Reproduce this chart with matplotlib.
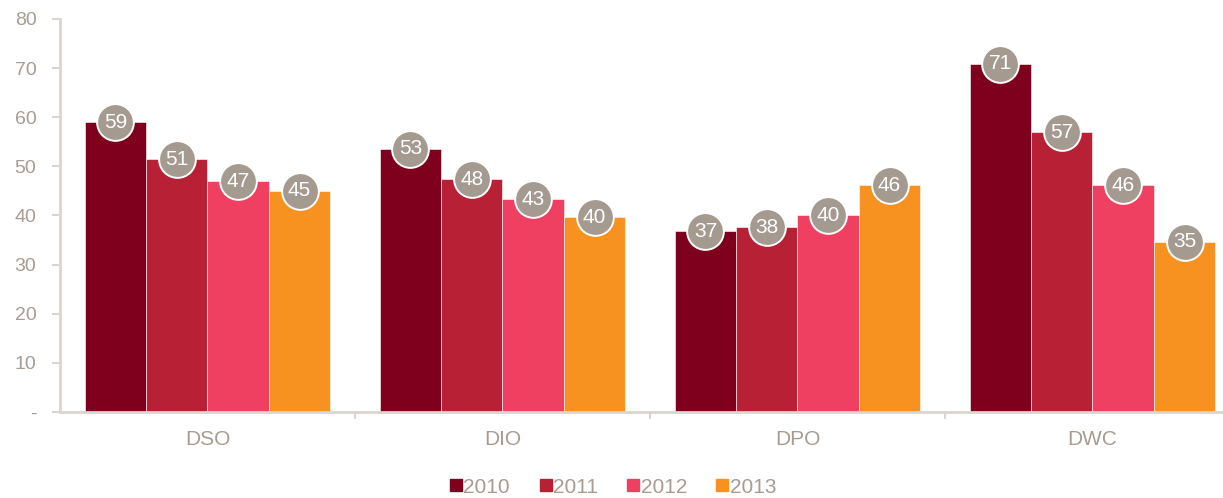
import matplotlib
matplotlib.use("Agg")
import matplotlib.pyplot as plt
import numpy as np
from matplotlib.lines import Line2D

categories = ["DSO", "DIO", "DPO", "DWC"]
years = ["2010", "2011", "2012", "2013"]
values = {
    "2010": [59.0, 53.6, 36.8, 70.9],
    "2011": [51.5, 47.4, 37.6, 56.9],
    "2012": [47.0, 43.3, 40.0, 46.2],
    "2013": [45.0, 39.6, 46.2, 34.7],
}
labels = {
    "2010": [59, 53, 37, 71],
    "2011": [51, 48, 38, 57],
    "2012": [47, 43, 40, 46],
    "2013": [45, 40, 46, 35],
}
colors = ["#7f001c", "#b82036", "#f04062", "#f79221"]
yticks = [0, 10, 20, 30, 40, 50, 60, 70, 80]
yticklabels = ["-", "10", "20", "30", "40", "50", "60", "70", "80"]

text_c = "#a89c92"
axis_c = "#dcd5cf"
bubble_c = "#a59a8f"

plt.rcParams["font.family"] = ["Liberation Sans", "DejaVu Sans"]

fig = plt.figure(figsize=(12.23, 4.98), dpi=100)
ax = fig.add_axes([60 / 1223, 1 - 412 / 498, (1222 - 60) / 1223, (412 - 19) / 498])

x = np.arange(len(categories))
w = 0.208
for i, y in enumerate(years):
    xs = x + (i - 1.5) * w
    ax.bar(xs, values[y], width=w, color=colors[i], edgecolor="#ffffff",
           linewidth=0.4, zorder=2)
    ax.scatter(xs, values[y], s=700, color=bubble_c, edgecolors="white",
               linewidths=1.4, zorder=3, clip_on=False)
    for xx, vv, lab in zip(xs, values[y], labels[y]):
        ax.text(xx, vv, str(lab), ha="center", va="center", color="white",
                fontsize=15, zorder=4)

ax.set_xlim(-0.5, 3.5 - 18 / 295)
ax.set_ylim(0, 80)
ax.set_yticks(yticks)
ax.set_yticklabels(yticklabels)
ax.set_xticks(x)
ax.set_xticklabels(categories)
ax.set_xticks([0.5, 1.5, 2.5], minor=True)

for s in ["top", "right"]:
    ax.spines[s].set_visible(False)
for s in ["left", "bottom"]:
    ax.spines[s].set_color(axis_c)
    ax.spines[s].set_linewidth(2)

ax.tick_params(axis="y", colors=axis_c, labelcolor=text_c, labelsize=14,
               length=6, width=1.5, direction="out", pad=11)
ax.tick_params(axis="x", which="major", length=0, labelcolor=text_c,
               labelsize=15, pad=13)
ax.tick_params(axis="x", which="minor", length=5, width=1.5, colors=axis_c,
               direction="out")

handles = [Line2D([0], [0], marker="s", linestyle="none", markersize=8,
                  markerfacecolor=c, markeredgecolor=c) for c in colors]
leg = fig.legend(handles, years, loc="center", bbox_to_anchor=(613 / 1223, 1 - 487 / 498),
                 ncol=4, frameon=False, fontsize=15, handlelength=0.6,
                 handletextpad=0.05, columnspacing=1.4, labelcolor=text_c)

fig.savefig("out.png", dpi=100)
